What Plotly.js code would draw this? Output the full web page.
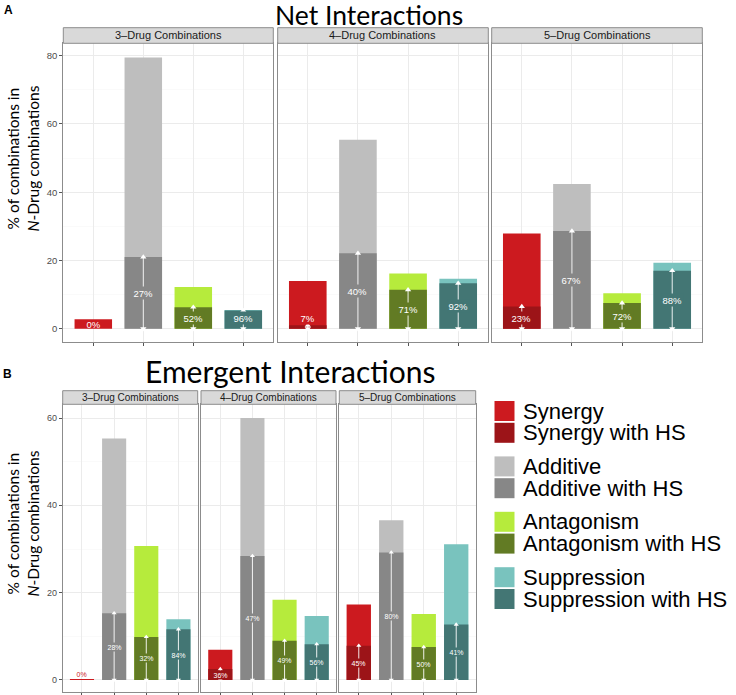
<!DOCTYPE html>
<html><head><meta charset="utf-8">
<script src="https://cdn.plot.ly/plotly-3.0.1.min.js"></script>
<style>html,body{margin:0;padding:0;background:#fff}</style>
</head><body><div id="chart" style="width:736px;height:695px"></div>
<script>
// ---------- data ----------
const categories = ['Synergy', 'Additive', 'Antagonism', 'Suppression'];
const panelNames = ['3\u2013Drug Combinations', '4\u2013Drug Combinations', '5\u2013Drug Combinations'];

// A: Net interactions (% of combinations, total and with HS)
const netTotal3 = [2.8, 79.5, 12.2, 5.5];
const netHS3    = [0, 21.0, 6.3, 5.3];
const netPct3   = ['0%', '27%', '52%', '96%'];
const netTotal4 = [14.0, 55.4, 16.2, 14.6];
const netHS4    = [1.0, 22.1, 11.4, 13.3];
const netPct4   = ['7%', '40%', '71%', '92%'];
const netTotal5 = [27.9, 42.4, 10.4, 19.3];
const netHS5    = [6.5, 28.6, 7.5, 17.0];
const netPct5   = ['23%', '67%', '72%', '88%'];

// B: Emergent interactions
const emTotal3 = [0.2, 55.3, 30.7, 13.9];
const emHS3    = [0, 15.3, 9.85, 11.6];
const emPct3   = ['0%', '28%', '32%', '84%'];
const emTotal4 = [6.95, 60.0, 18.4, 14.65];
const emHS4    = [2.5, 28.4, 9.0, 8.2];
const emPct4   = ['36%', '47%', '49%', '56%'];
const emTotal5 = [17.3, 36.6, 15.1, 31.1];
const emHS5    = [7.85, 29.2, 7.55, 12.7];
const emPct5   = ['45%', '80%', '50%', '41%'];

const yTicksNet = [0, 20, 40, 60, 80];
const yMinorNet = [10, 30, 50, 70];
const yTicksEm  = [0, 20, 40, 60];
const yMinorEm  = [10, 30, 50];

const legendLabels = ['Synergy', 'Synergy with HS', 'Additive', 'Additive with HS',
                      'Antagonism', 'Antagonism with HS', 'Suppression', 'Suppression with HS'];

// ---------- styles ----------
const lightCol = ['#CC1A1F', '#BEBEBE', '#B6EB3C', '#79C3BE'];
const darkCol  = ['#9C1418', '#878787', '#627B24', '#437674'];
const W = 736, H = 695;
const px = x => x / W;
const py = y => 1 - y / H;
const borderCol = '#8c8c8c';

const rows = [
  { panels: [[netTotal3, netHS3, netPct3], [netTotal4, netHS4, netPct4], [netTotal5, netHS5, netPct5]],
    xs: [[63.3, 273.3], [277.7, 488.3], [491.7, 702.3]], top: 43.3, bottom: 342.3, stripTop: 27.7,
    yr: [-3.99, 83.63], ticks: yTicksNet, minor: yMinorNet, labelSize: 9.5, labelMin: 3,
    stripFont: 11, tickFont: 9.5, titleY: 159 },
  { panels: [[emTotal3, emHS3, emPct3], [emTotal4, emHS4, emPct4], [emTotal5, emHS5, emPct5]],
    xs: [[62.7, 197.7], [201, 336], [339.3, 475.7]], top: 404.3, bottom: 692.3, stripTop: 390.7,
    yr: [-2.82, 63.14], ticks: yTicksEm, minor: yMinorEm, labelSize: 7, labelMin: 1.2,
    stripFont: 10, tickFont: 9, titleY: 524 }
];

const traces = [];
const annotations = [];
const shapes = [];
const layout = {
  width: W, height: H, margin: { l: 0, r: 0, t: 0, b: 0 },
  paper_bgcolor: '#fff', plot_bgcolor: '#fff', showlegend: false, barmode: 'overlay',
  font: { family: 'Liberation Sans, Arial, sans-serif', color: '#1a1a1a' },
  annotations: annotations, shapes: shapes
};

let k = 0;
rows.forEach((row, r) => {
  row.panels.forEach((p, j) => {
    k++;
    const xs = k === 1 ? '' : String(k);
    const xa = 'x' + xs, ya = 'y' + xs;
    const [total, hs, pct] = p;
    const xpos = categories.map((c, i) => i + 1);
    layout['xaxis' + xs] = {
      domain: [px(row.xs[j][0]), px(row.xs[j][1])], range: [0.4, 4.6], anchor: ya,
      tickvals: xpos, showticklabels: false, ticks: 'outside', ticklen: 3, tickcolor: '#555',
      showgrid: true, gridcolor: '#EBEBEB', zeroline: false,
      showline: true, mirror: true, linecolor: borderCol, linewidth: 1, fixedrange: true
    };
    layout['yaxis' + xs] = {
      domain: [py(row.bottom), py(row.top)], range: row.yr, anchor: xa,
      tickmode: 'array', tickvals: row.ticks, ticktext: row.ticks.map(String),
      showticklabels: j === 0, ticks: j === 0 ? 'outside' : '', ticklen: 3, tickcolor: '#555',
      tickfont: { size: row.tickFont, color: '#4D4D4D' },
      showgrid: true, gridcolor: '#EBEBEB', gridwidth: 1,
      minor: { tickmode: 'array', tickvals: row.minor, showgrid: true, gridcolor: '#F6F6F6', gridwidth: 0.6, ticks: '' },
      zeroline: false, showline: true, mirror: true, linecolor: borderCol, linewidth: 1, fixedrange: true
    };
    traces.push({ type: 'bar', x: xpos, y: total, width: 0.75, xaxis: xa, yaxis: ya,
      marker: { color: lightCol, line: { width: 0 } }, hoverinfo: 'skip' });
    traces.push({ type: 'bar', x: xpos, y: hs, width: 0.75, xaxis: xa, yaxis: ya,
      marker: { color: darkCol, line: { width: 0 } }, hoverinfo: 'skip' });
    hs.forEach((h, i) => {
      if (h > 0) {
        traces.push({ type: 'scatter', mode: 'lines+markers', x: [i + 1, i + 1], y: [0, h],
          xaxis: xa, yaxis: ya, hoverinfo: 'skip', cliponaxis: false,
          line: { color: '#ffffff', width: 0.9 },
          marker: { symbol: ['triangle-down', 'triangle-up'], size: r === 0 ? 5.5 : 4.5, color: '#ffffff',
                    line: { width: 0 } } });
      }
      const ly = h > 0 ? Math.max(h / 2, row.labelMin) : Math.max(total[i] / 2, 1.3);
      const inside = ly < total[i];
      annotations.push({ xref: xa, yref: ya, x: i + 1, y: ly, text: pct[i], showarrow: false,
        font: { size: row.labelSize, color: inside ? '#ffffff' : lightCol[i] },
        bgcolor: h > 0 ? (ly <= h ? darkCol[i] : lightCol[i]) : 'rgba(0,0,0,0)', borderpad: 0.5 });
    });
    // strip
    shapes.push({ type: 'rect', xref: 'paper', yref: 'paper',
      x0: px(row.xs[j][0]), x1: px(row.xs[j][1]), y0: py(row.top), y1: py(row.stripTop),
      fillcolor: '#D9D9D9', line: { color: borderCol, width: 1 } });
    annotations.push({ xref: 'paper', yref: 'paper', x: px((row.xs[j][0] + row.xs[j][1]) / 2),
      y: py((row.top + row.stripTop) / 2), text: panelNames[j], showarrow: false, borderpad: 0,
      xanchor: 'center', yanchor: 'middle', font: { size: row.stripFont, color: '#1A1A1A' } });
  });
  // y-axis title
  annotations.push({ xref: 'paper', yref: 'paper', x: px(22.5), y: py(row.titleY),
    text: '% of combinations in<br><i>N</i>-Drug combinations', textangle: -90, showarrow: false,
    xanchor: 'center', yanchor: 'middle', font: { family: 'Lato, sans-serif', size: 15.5, color: '#000' } });
});

// panel titles and letters
annotations.push({ xref: 'paper', yref: 'paper', x: px(369), y: py(15), text: 'Net Interactions',
  showarrow: false, xanchor: 'center', yanchor: 'middle', borderpad: 0,
  font: { family: 'Lato, sans-serif', size: 26.5, color: '#000' } });
annotations.push({ xref: 'paper', yref: 'paper', x: px(290), y: py(371), text: 'Emergent Interactions',
  showarrow: false, xanchor: 'center', yanchor: 'middle', font: { family: 'Lato, sans-serif', size: 30, color: '#000' } });
annotations.push({ xref: 'paper', yref: 'paper', x: px(8), y: py(10.5), text: '<b>A</b>',
  showarrow: false, xanchor: 'center', yanchor: 'middle', font: { size: 12, color: '#000' } });
annotations.push({ xref: 'paper', yref: 'paper', x: px(7), y: py(373.5), text: '<b>B</b>',
  showarrow: false, xanchor: 'center', yanchor: 'middle', font: { size: 12, color: '#000' } });

// legend
legendLabels.forEach((lab, i) => {
  const g = Math.floor(i / 2), sub = i % 2;
  const top = 401 + g * 55.4 + sub * 21.8;
  const col = sub === 0 ? lightCol[g] : darkCol[g];
  shapes.push({ type: 'rect', xref: 'paper', yref: 'paper', x0: px(494.5), x1: px(514.5),
    y0: py(top + 20), y1: py(top), fillcolor: col, line: { width: 0 } });
  annotations.push({ xref: 'paper', yref: 'paper', x: px(522), y: py(top + 10), text: lab,
    showarrow: false, xanchor: 'left', yanchor: 'middle', borderpad: 0, font: { size: 22, color: '#000' } });
});

Plotly.newPlot('chart', traces, layout, { staticPlot: true, displayModeBar: false });
</script>
</body></html>
